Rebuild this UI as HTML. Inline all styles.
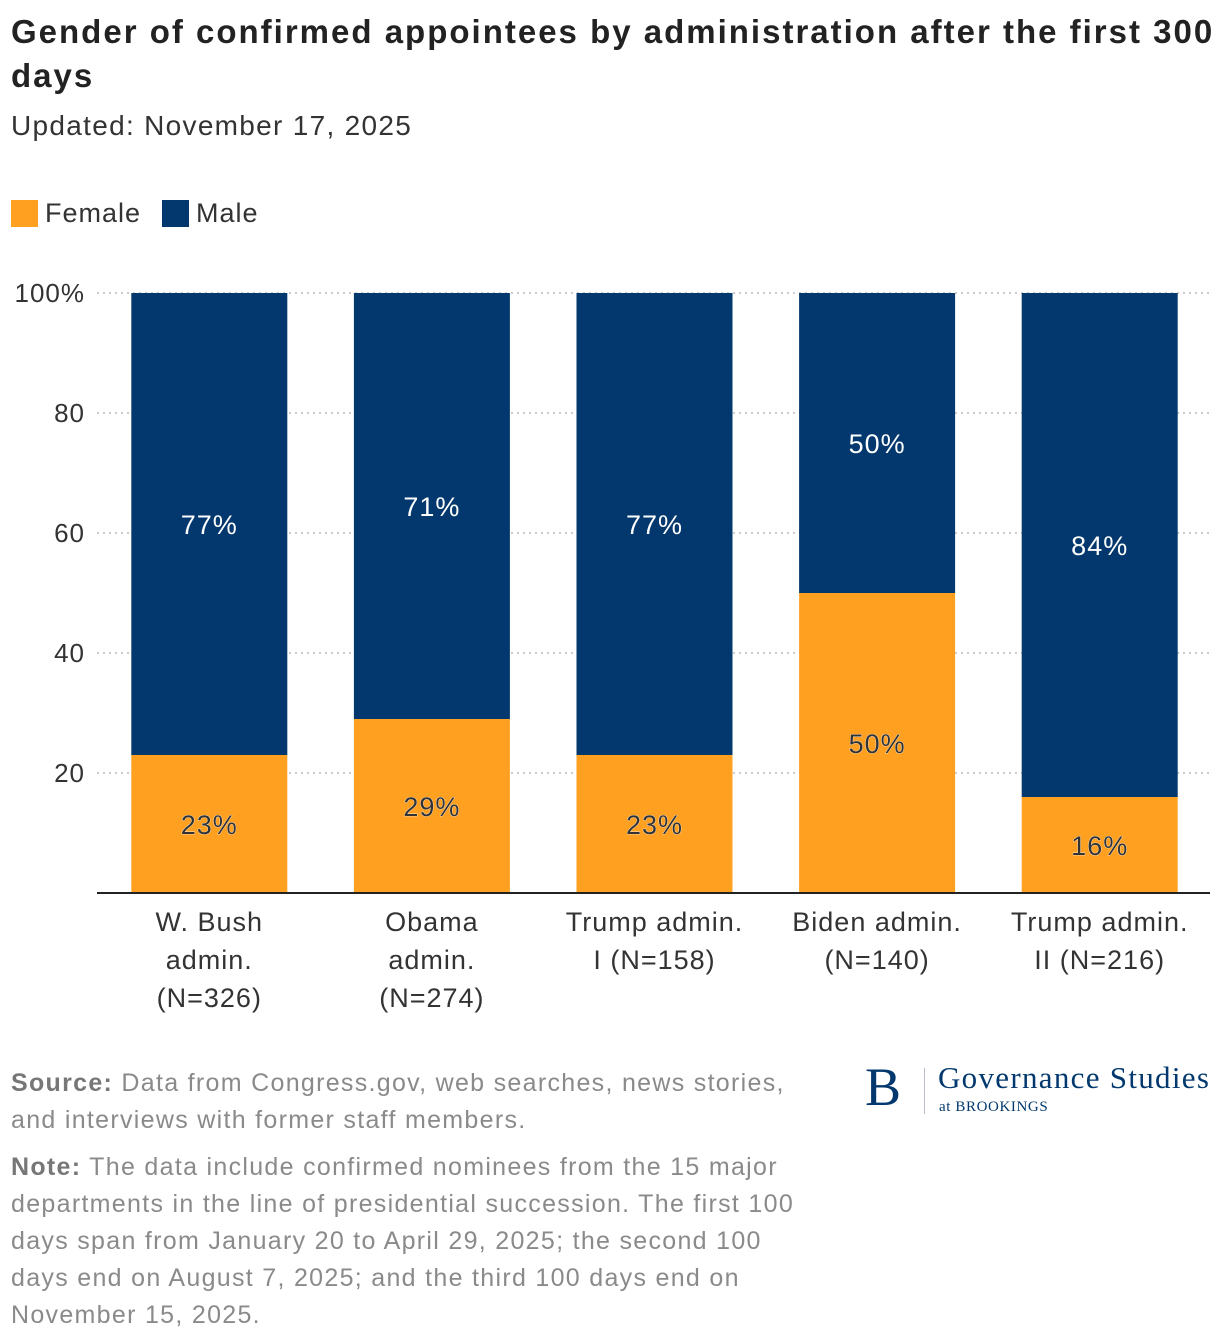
<!DOCTYPE html>
<html><head><meta charset="utf-8"><style>
body{margin:0;width:1220px;height:1342px;background:#fff;font-family:"Liberation Sans",sans-serif;position:relative;overflow:hidden}
.abs{position:absolute}
</style></head><body>
<div class="abs" style="left:11px;top:10px;width:1210px;white-space:nowrap;font-size:33px;letter-spacing:2px;font-weight:bold;line-height:44px;color:#222">Gender of confirmed appointees by administration after the first 300<br>days</div>
<div class="abs" style="left:11px;top:110px;font-size:28px;letter-spacing:1.3px;color:#333">Updated: November 17, 2025</div>
<div class="abs" style="left:11px;top:198px;font-size:27px;letter-spacing:1px;color:#333;display:flex;align-items:center">
 <span style="display:flex;align-items:center"><span style="width:27px;height:27px;background:#ffa021;display:inline-block;margin-right:7px"></span>Female</span>
 <span style="display:flex;align-items:center;margin-left:21px"><span style="width:27px;height:27px;background:#02386d;display:inline-block;margin-right:7px"></span>Male</span>
</div>
<svg class="abs" style="left:0;top:0" width="1220" height="1040" id="chart"></svg>
<div class="abs" style="left:11px;top:1065px;white-space:nowrap;font-size:25px;letter-spacing:1.3px;line-height:37px;color:#8a8a8a"><b style="color:#777">Source:</b> Data from Congress.gov, web searches, news stories,<br>and interviews with former staff members.</div>
<div class="abs" style="left:11px;top:1149px;white-space:nowrap;font-size:25px;letter-spacing:1.3px;line-height:37px;color:#8a8a8a"><b style="color:#777">Note:</b> The data include confirmed nominees from the 15 major<br>departments in the line of presidential succession. The first 100<br>days span from January 20 to April 29, 2025; the second 100<br>days end on August 7, 2025; and the third 100 days end on<br>November 15, 2025.</div>
<div class="abs" style="left:865px;top:1060px;color:#02386d;font-family:'Liberation Serif',serif">
 <span style="position:absolute;left:0;top:-4px;font-size:54px">B</span>
 <span style="position:absolute;left:59px;top:8px;width:1px;height:46px;background:#bbc"></span>
 <span style="position:absolute;left:73px;top:0;font-size:31px;letter-spacing:1.3px;white-space:nowrap">Governance Studies</span>
 <span style="position:absolute;left:74px;top:39px;font-size:15px;letter-spacing:0.6px;white-space:nowrap">at BROOKINGS</span>
</div>
<script>
const categories=[["W. Bush","admin.","(N=326)"],["Obama","admin.","(N=274)"],["Trump admin.","I (N=158)"],["Biden admin.","(N=140)"],["Trump admin.","II (N=216)"]];
const female=[23,29,23,50,16];
const male=[77,71,77,50,84];
const ticks=[20,40,60,80,100];
const tickLabels=["20","40","60","80","100%"];
const svg=document.getElementById('chart');const NS='http://www.w3.org/2000/svg';
const y0=893,y1=293,xL=97,xR=1210;
const y=v=>y0-(v/100)*(y0-y1);
const slot=(xR-xL)/categories.length;const bw=156;
const xc=i=>xL+slot*(i+0.5)+1;
function mk(t,a){const e=document.createElementNS(NS,t);for(const k in a)e.setAttribute(k,a[k]);svg.appendChild(e);return e;}
ticks.forEach((t,i)=>{
 const g=mk('line',{x1:xL,x2:xR,y1:y(t),y2:y(t),stroke:'#bbb','stroke-dasharray':'2,4','stroke-width':1.5});
 
 
 const l=mk('text',{x:85,y:y(t)+9,'text-anchor':'end','font-size':26,'letter-spacing':1,fill:'#333'});l.textContent=tickLabels[i];
 
 
});
categories.forEach((c,i)=>{
 const x=xc(i)-bw/2;
 const f=mk('rect',{x:x,y:y(female[i]),width:bw,height:y(0)-y(female[i]),fill:'#ffa021'});
 
 
 const m=mk('rect',{x:x,y:y(female[i]+male[i]),width:bw,height:y(female[i])-y(female[i]+male[i]),fill:'#02386d'});
 
 
 const tf=mk('text',{x:xc(i),y:(y(0)+y(female[i]))/2+10,'text-anchor':'middle','font-size':27,'letter-spacing':1,fill:'#333',stroke:'#fff','stroke-width':0.6,'paint-order':'stroke'});tf.textContent=female[i]+'%';
 
 
 const tm=mk('text',{x:xc(i),y:(y(female[i])+y(female[i]+male[i]))/2+10,'text-anchor':'middle','font-size':27,'letter-spacing':1,fill:'#fff'});tm.textContent=male[i]+'%';
 
 
 c.forEach((s,j)=>{const t=mk('text',{x:xc(i),y:931+j*38,'text-anchor':'middle','font-size':27,'letter-spacing':1,fill:'#333'});t.textContent=s;
 
 });
});
const ax=mk('line',{x1:xL,x2:xR,y1:y0,y2:y0,stroke:'#222','stroke-width':2});


</script>
</body></html>
